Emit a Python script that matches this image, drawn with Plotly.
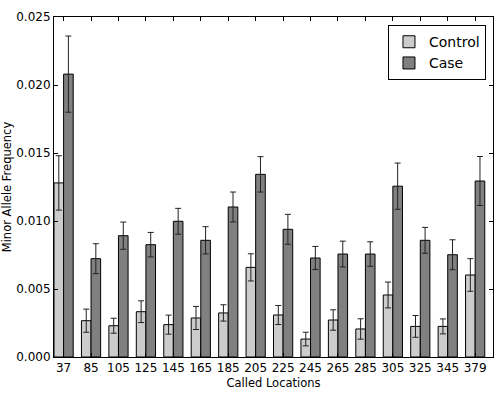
import plotly.graph_objects as go

locations = ["37", "85", "105", "125", "145", "165", "185", "205", "225", "245",
             "265", "285", "305", "325", "345", "379"]
control = [0.0128, 0.00267, 0.0023, 0.00333, 0.00238, 0.00287, 0.00324, 0.00659,
           0.00309, 0.00132, 0.00272, 0.00206, 0.00456, 0.00225, 0.00225, 0.00603]
control_err = [0.0020, 0.00085, 0.00055, 0.0008, 0.0007, 0.00085, 0.0006, 0.0010,
               0.0007, 0.0005, 0.00075, 0.00075, 0.00095, 0.0008, 0.00055, 0.0012]
case = [0.0208, 0.00723, 0.00892, 0.00826, 0.00998, 0.00858, 0.01103, 0.01343,
        0.00939, 0.00728, 0.00757, 0.00757, 0.01256, 0.00858, 0.00752, 0.01294]
case_err = [0.0028, 0.0011, 0.0010, 0.0009, 0.00095, 0.0010, 0.0011, 0.0013,
            0.0011, 0.00085, 0.00095, 0.0009, 0.0017, 0.00095, 0.0011, 0.0018]

W = 0.35
idx = list(range(len(locations)))

fig = go.Figure()
fig.add_trace(go.Bar(
    x=[i + W / 2 for i in idx], y=control, width=W, name="Control",
    marker=dict(color="#cccccc", line=dict(color="black", width=1)),
    error_y=dict(type="data", array=control_err, color="#222222", thickness=1, width=3),
))
fig.add_trace(go.Bar(
    x=[i + 1.5 * W for i in idx], y=case, width=W, name="Case",
    marker=dict(color="#808080", line=dict(color="black", width=1)),
    error_y=dict(type="data", array=case_err, color="#222222", thickness=1, width=3),
))

fig.update_layout(
    width=495, height=393,
    margin=dict(l=54, r=2, t=17, b=36),
    barmode="overlay",
    plot_bgcolor="white", paper_bgcolor="white",
    font=dict(family="DejaVu Sans", size=12, color="black"),
    legend=dict(x=0.984, y=0.976, xanchor="right", yanchor="top",
                bordercolor="black", borderwidth=1, bgcolor="white",
                font=dict(size=14), traceorder="normal"),
    xaxis=dict(
        range=[0, 16],
        tickmode="array", tickvals=[i + W for i in idx], ticktext=locations,
        ticks="inside", ticklen=4, tickcolor="black",
        showline=True, linecolor="black", linewidth=1, mirror="ticks",
        showgrid=False, zeroline=False,
        title=dict(text="Called Locations", font=dict(size=11.5), standoff=4),
        tickfont=dict(size=12),
    ),
    yaxis=dict(
        range=[0, 0.025], dtick=0.005, tickformat=".3f",
        ticks="inside", ticklen=4, tickcolor="black",
        showline=True, linecolor="black", linewidth=1, mirror="ticks",
        showgrid=False, zeroline=False,
        title=dict(text="Minor Allele Frequency", font=dict(size=11.5), standoff=6),
        tickfont=dict(size=12),
    ),
)

fig.write_html("out.html")
